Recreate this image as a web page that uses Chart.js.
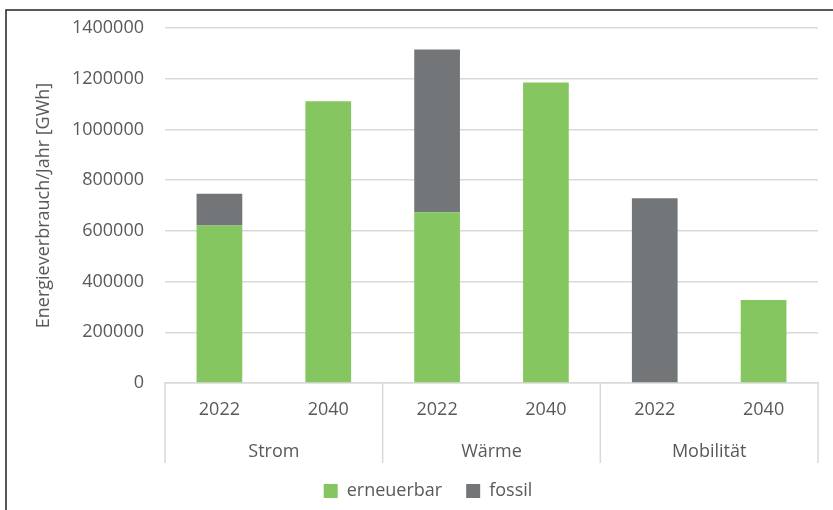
<!DOCTYPE html>
<html>
<head>
<meta charset="utf-8">
<script src="https://cdn.jsdelivr.net/npm/chart.js@4/dist/chart.umd.min.js"></script>
<style>
  html, body { margin: 0; padding: 0; background: #fff; }
  #wrap { width: 833px; height: 510px; position: relative; }
</style>
</head>
<body>
<div id="wrap"><canvas id="chart" width="833" height="510"></canvas></div>
<script>
// data
const years = ["2022", "2040", "2022", "2040", "2022", "2040"];
const groups = ["Strom", "Wärme", "Mobilität"];
const erneuerbar = [621000, 1111000, 673000, 1185000, 0, 327000];
const fossil = [125000, 0, 642000, 0, 729000, 0];
const yTicks = [0, 200000, 400000, 600000, 800000, 1000000, 1200000, 1400000];

const textColor = "#595959";
const font = { family: "'Open Sans', sans-serif", size: 18 };

// frame lines round the picture + separators under the x axis
const extras = {
  id: "extras",
  afterLayout(chart) {
    // legend sits a bit right of centre in the reference
    chart.legend.left += 19;
    chart.legend.right += 19;
  },
  afterDraw(chart) {
    const ctx = chart.ctx;
    const x = chart.scales.x;
    const x2 = chart.scales.x2;
    const area = chart.chartArea;

    ctx.save();
    ctx.strokeStyle = "#d9d9d9";
    ctx.lineWidth = 1.5;
    const seps = [area.left];
    for (let i = 1; i < years.length - 1; i += 2) {
      seps.push((x.getPixelForValue(i) + x.getPixelForValue(i + 1)) / 2);
    }
    seps.push(area.right);
    seps.forEach(px => {
      ctx.beginPath();
      ctx.moveTo(px, area.bottom);
      ctx.lineTo(px, x2.bottom + 5);
      ctx.stroke();
    });

    ctx.strokeStyle = "#222";
    ctx.lineWidth = 1.5;
    ctx.beginPath();
    ctx.moveTo(6, chart.height);
    ctx.lineTo(6, 10);
    ctx.lineTo(chart.width, 10);
    ctx.stroke();
    ctx.restore();
  }
};

new Chart(document.getElementById("chart"), {
  type: "bar",
  data: {
    labels: years,
    datasets: [
      { label: "erneuerbar", data: erneuerbar, backgroundColor: "#85c660", barPercentage: 0.42, categoryPercentage: 1 },
      { label: "fossil", data: fossil, backgroundColor: "#737679", barPercentage: 0.42, categoryPercentage: 1 }
    ]
  },
  options: {
    responsive: false,
    animation: false,
    layout: { padding: { top: 28, right: 15, left: 0, bottom: 0 } },
    plugins: {
      legend: {
        position: "bottom",
        labels: {
          color: textColor,
          font: font,
          boxWidth: 14,
          boxHeight: 14,
          padding: 24
        }
      },
      tooltip: { enabled: false }
    },
    scales: {
      x: {
        stacked: true,
        weight: 0,
        grid: { display: false, drawTicks: false },
        border: { display: true, color: "#d9d9d9", width: 1.5 },
        ticks: { color: textColor, font: font, padding: 16 },
        afterFit(scale) { scale.height = 50; }
      },
      x2: {
        type: "category",
        labels: groups,
        position: "bottom",
        weight: 1,
        offset: true,
        grid: { display: false, drawTicks: false },
        border: { display: false },
        ticks: { color: textColor, font: font, padding: 8 },
        afterFit(scale) { scale.height = 25; }
      },
      y: {
        stacked: true,
        min: 0,
        max: 1400000,
        afterBuildTicks(scale) { scale.ticks = yTicks.map(v => ({ value: v })); },
        grid: { color: "#d9d9d9", lineWidth: 1.5, drawTicks: false },
        border: { display: false },
        ticks: { color: textColor, font: font, padding: 21, callback: v => String(v) },
        title: {
          display: true,
          text: "Energieverbrauch/Jahr [GWh]",
          color: textColor,
          font: font,
          padding: { top: 33, bottom: 0 }
        },
        afterFit(scale) {
          scale.width = 165;
          scale.paddingTop = 0;
          scale.paddingBottom = 0;
        }
      }
    }
  },
  plugins: [extras]
});
</script>
</body>
</html>
